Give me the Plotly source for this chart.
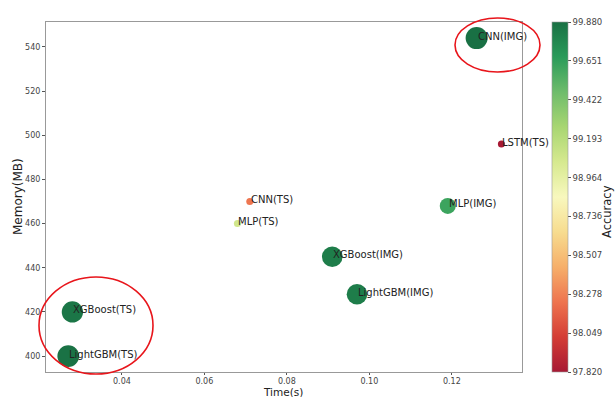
import plotly.graph_objects as go

models = ["CNN(IMG)", "LSTM(TS)", "MLP(IMG)", "CNN(TS)", "MLP(TS)",
          "XGBoost(IMG)", "LightGBM(IMG)", "XGBoost(TS)", "LightGBM(TS)"]
time_s = [0.126, 0.132, 0.119, 0.071, 0.068, 0.091, 0.097, 0.028, 0.027]
memory_mb = [544, 496, 468, 470, 460, 445, 428, 420, 400]
accuracy = [99.88, 97.82, 99.62, 98.24, 99.08, 99.82, 99.82, 99.85, 99.87]

acc_min, acc_max = 97.82, 99.88
cbar_ticks = [97.820, 98.049, 98.278, 98.507, 98.736, 98.964, 99.193, 99.422, 99.651, 99.880]

# RdYlGn blended slightly with white to mimic alpha
base = [(165, 0, 38), (215, 48, 39), (244, 109, 67), (253, 174, 97), (254, 224, 139),
        (255, 255, 191), (217, 239, 139), (166, 217, 106), (102, 189, 99), (26, 152, 80), (0, 104, 55)]
alpha = 0.9
scale = []
for i, c in enumerate(base):
    r, g, b = [round(v * alpha + 255 * (1 - alpha) - 8 * alpha) if v > 8 else round(v * alpha + 255 * (1 - alpha)) for v in c]
    scale.append([i / (len(base) - 1), f"rgb({r},{g},{b})"])

sizes = [max(7, 22 - 23 * (acc_max - a)) for a in accuracy]

PW, PH, L, T = 476, 350, 46, 22  # plot area size / offsets in px

fig = go.Figure()
fig.add_trace(go.Scatter(
    x=time_s, y=memory_mb, mode="markers",
    marker=dict(size=sizes, color=accuracy, colorscale=scale, cmin=acc_min, cmax=acc_max,
                line=dict(width=0), opacity=1,
                colorbar=dict(
                    thickness=16, len=1, lenmode="fraction", y=0.5, yanchor="middle",
                    x=(552 - L) / PW, xanchor="left", xpad=0, ypad=0,
                    outlinewidth=0.6, outlinecolor="#999",
                    tickvals=cbar_ticks, ticktext=[f"{t:.3f}" for t in cbar_ticks],
                    ticks="outside", ticklen=3, tickcolor="#555",
                    tickfont=dict(size=8.5, color="#444", family="DejaVu Sans"),
                )),
    hoverinfo="text", text=models, showlegend=False,
))

for m, x, y in zip(models, time_s, memory_mb):
    fig.add_annotation(x=x, y=y, text=m, showarrow=False, xanchor="left", yanchor="middle",
                       yshift=2, xshift=-1,
                       font=dict(size=10, color="#222", family="DejaVu Sans"))

title_font = dict(size=12, color="#222", family="DejaVu Sans")
# axis titles
fig.add_annotation(xref="paper", yref="paper", x=(283 - L) / PW, y=0, yanchor="bottom",
                   yshift=-(399 - (T + PH)), text="Time(s)", showarrow=False, borderpad=0,
                   font=dict(size=10.5, color="#222", family="DejaVu Sans"))
fig.add_annotation(xref="paper", yref="paper", x=0, y=0.5, xanchor="center",
                   xshift=-(L - 18), textangle=-90, text="Memory(MB)", showarrow=False,
                   font=title_font)
fig.add_annotation(xref="paper", yref="paper", x=(607 - L) / PW, y=(T + PH - 212) / PH,
                   xanchor="center", yanchor="middle", textangle=-90, text="Accuracy",
                   showarrow=False, font=dict(size=11.5, color="#222", family="DejaVu Sans"))

# red highlight ellipses (paper coordinates)
fig.add_shape(type="circle", xref="paper", yref="paper",
              x0=(455 - L) / PW, x1=(540 - L) / PW,
              y0=(T + PH - 72) / PH, y1=(T + PH - 18) / PH,
              line=dict(color="#e8151b", width=1.6))
fig.add_shape(type="circle", xref="paper", yref="paper",
              x0=(39 - L) / PW, x1=(153 - L) / PW,
              y0=(T + PH - 374) / PH, y1=(T + PH - 277) / PH,
              line=dict(color="#e8151b", width=1.6))

axis_common = dict(showgrid=False, zeroline=False, showline=True, mirror=True,
                   linecolor="#999", linewidth=1, ticks="outside",
                   tickcolor="#555", automargin=False,
                   tickfont=dict(size=8, color="#444", family="DejaVu Sans"))

fig.update_xaxes(range=[0.0216, 0.137], tickvals=[0.04, 0.06, 0.08, 0.10, 0.12],
                 ticktext=["0.04", "0.06", "0.08", "0.10", "0.12"], ticklen=1.5, **axis_common)
fig.update_yaxes(range=[392.8, 551.3], tickvals=[400, 420, 440, 460, 480, 500, 520, 540],
                 ticklen=3, **axis_common)

fig.update_layout(width=615, height=397,
                  margin=dict(l=L, r=615 - L - PW, t=T, b=397 - T - PH, autoexpand=False),
                  plot_bgcolor="white", paper_bgcolor="white",
                  font=dict(family="DejaVu Sans"))

fig.write_html("out.html", config={"displayModeBar": False},
               post_script="document.body.style.margin='0';document.body.style.overflow='hidden';")
